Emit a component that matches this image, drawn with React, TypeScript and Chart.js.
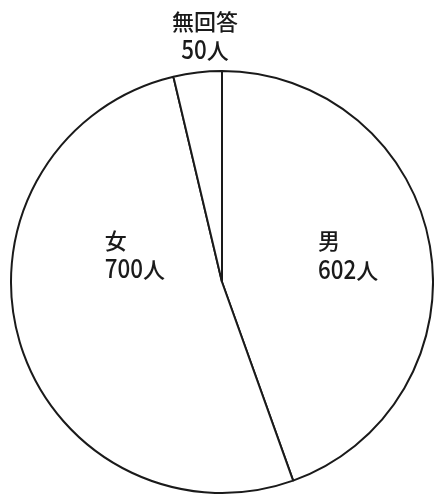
import React, { useEffect, useRef } from "react";
import { Chart, registerables } from "chart.js";

Chart.register(...registerables);

const categories: string[] = ["男", "女", "無回答"];
const counts: number[] = [602, 700, 50];
const unit = "人";

// label placement relative to slice anchor (layout/style only)
const labelPlacement = [
  { anchor: "mid", align: "left", dx: -8, dy1: -14.5, dy2: 15 },
  { anchor: "mid", align: "left", dx: -16, dy1: -63, dy2: -33.5 },
  { anchor: "outer", align: "center", dx: 7.5, dy1: -42, dy2: -13.5 },
];

const CJK_FONT = '500 22px "Noto Sans CJK JP"';
const DIGIT_FONT = '500 26px "Noto Sans CJK JP"';
const DIGIT_SCALE = 0.86;

function drawMixed(ctx: CanvasRenderingContext2D, text: string, x: number, y: number, align: string) {
  const parts = Array.from(text).map((ch) => {
    const isDigit = /[0-9]/.test(ch);
    ctx.font = isDigit ? DIGIT_FONT : CJK_FONT;
    const w = ctx.measureText(ch).width * (isDigit ? DIGIT_SCALE : 1);
    return { ch, isDigit, w };
  });
  const total = parts.reduce((s, p) => s + p.w, 0);
  let cx = align === "center" ? x - total / 2 : x;
  for (const p of parts) {
    ctx.save();
    ctx.font = p.isDigit ? DIGIT_FONT : CJK_FONT;
    ctx.translate(cx, y);
    if (p.isDigit) ctx.scale(DIGIT_SCALE, 1);
    ctx.fillText(p.ch, 0, 0);
    ctx.restore();
    cx += p.w;
  }
}

const labelPlugin = {
  id: "sliceLabels",
  afterDatasetsDraw(chart: any) {
    const ctx: CanvasRenderingContext2D = chart.ctx;
    const meta = chart.getDatasetMeta(0);
    ctx.save();
    ctx.fillStyle = "#1a1a1a";
    ctx.textBaseline = "alphabetic";
    ctx.textAlign = "left";
    meta.data.forEach((arc: any, i: number) => {
      const p = arc.getProps(["x", "y", "startAngle", "endAngle", "outerRadius"], true);
      const mid = (p.startAngle + p.endAngle) / 2;
      const cfg = labelPlacement[i];
      const r = cfg.anchor === "outer" ? p.outerRadius : p.outerRadius / 2;
      const ax = p.x + Math.cos(mid) * r;
      const ay = p.y + Math.sin(mid) * r;
      drawMixed(ctx, categories[i], ax + cfg.dx, ay + cfg.dy1, cfg.align);
      drawMixed(ctx, `${counts[i]}${unit}`, ax + cfg.dx, ay + cfg.dy2, cfg.align);
    });
    ctx.restore();
  },
};

export default function App() {
  const ref = useRef<HTMLCanvasElement | null>(null);
  useEffect(() => {
    if (!ref.current) return;
    const chart = new Chart(ref.current, {
      type: "pie",
      data: {
        labels: categories,
        datasets: [
          {
            data: counts,
            backgroundColor: "#ffffff",
            borderColor: "#1a1a1a",
            borderWidth: 2,
            borderAlign: "center",
          },
        ],
      },
      options: {
        responsive: false,
        animation: false,
        layout: { padding: { left: 10, right: 0, top: 70, bottom: 1 } },
        plugins: { legend: { display: false }, tooltip: { enabled: false } },
      },
      plugins: [labelPlugin],
    });
    return () => chart.destroy();
  }, []);
  return (
    <div style={{ position: "absolute", left: 0, top: 0, width: 434, height: 495, background: "#fff" }}>
      <canvas ref={ref} width={434} height={495} style={{ display: "block" }} />
    </div>
  );
}
